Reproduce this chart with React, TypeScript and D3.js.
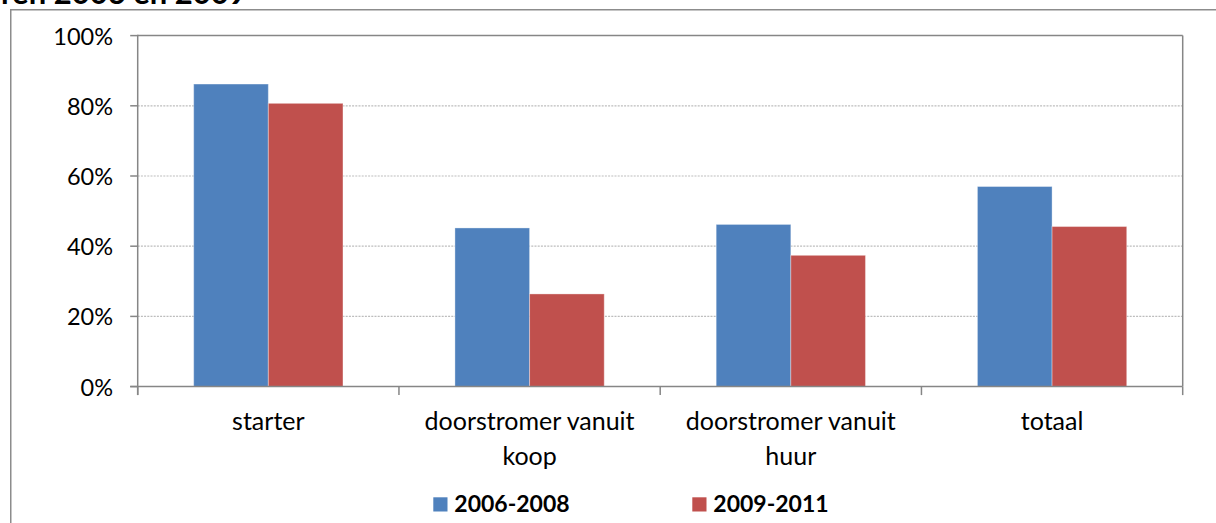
import React from "react";
import * as d3 from "d3";

const categories = ["starter", "doorstromer vanuit koop", "doorstromer vanuit huur", "totaal"];
const categoryLines = [["starter"], ["doorstromer vanuit", "koop"], ["doorstromer vanuit", "huur"], ["totaal"]];
const seriesNames = ["2006-2008", "2009-2011"];
const values2006 = [0.862, 0.452, 0.462, 0.570];
const values2009 = [0.807, 0.264, 0.374, 0.456];
const seriesColors = ["#4F81BD", "#C0504D"];
const yTicks = [0, 0.2, 0.4, 0.6, 0.8, 1.0];
const titleText = "ren 2006 en 2009";

const W = 1216;
const H = 523;
const FONT = "Lato, 'Noto Sans', sans-serif";

export default function App() {
  const left = 137.7;
  const right = 1182.7;
  const top = 35.6;
  const bottom = 386.6;

  const x0 = d3.scaleBand<string>().domain(categories).range([left, right]).padding(0);
  const x1 = d3
    .scaleBand<string>()
    .domain(seriesNames)
    .range([0, x0.bandwidth()])
    .paddingInner(0)
    .paddingOuter(0.75);
  const y = d3.scaleLinear().domain([0, 1]).range([bottom, top]);
  const fmt = d3.format(".0%");
  const seriesValues = [values2006, values2009];
  const axisColor = "#868686";

  const tickPositions = [...categories.map((c) => x0(c) as number), right];

  return (
    <div style={{ position: "fixed", left: 0, top: 0, width: W, height: H, background: "#fff" }}>
      <svg width={W} height={H} style={{ display: "block" }}>
        <rect x={0} y={0} width={W} height={H} fill="#fff" />
        {/* title (clipped at top, as in the reference) */}
        <text x={1} y={3.5} fontFamily={FONT} fontWeight={700} fontSize={31} fill="#000">
          {titleText}
        </text>
        {/* outer frame */}
        <line x1={10.75} x2={10.75} y1={9.5} y2={H} stroke="#8c8c8c" strokeWidth={1.5} />
        <line x1={10} x2={W} y1={9.75} y2={9.75} stroke="#8c8c8c" strokeWidth={1.5} />

        {/* gridlines */}
        {yTicks
          .filter((t) => t > 0 && t < 1)
          .map((t) => (
            <line
              key={"g" + t}
              x1={left}
              x2={right}
              y1={y(t)}
              y2={y(t)}
              stroke="#bdbdbd"
              strokeWidth={1.2}
              strokeDasharray="2 1.2"
            />
          ))}

        {/* bars */}
        {categories.map((c, i) => (
          <g key={c} transform={`translate(${x0(c)},0)`}>
            {seriesNames.map((s, j) => {
              const v = seriesValues[j][i];
              return (
                <rect
                  key={s}
                  x={x1(s) as number}
                  y={y(v)}
                  width={x1.bandwidth()}
                  height={bottom - y(v)}
                  fill={seriesColors[j]}
                  stroke="rgba(255,255,255,0.35)"
                  strokeWidth={1}
                />
              );
            })}
          </g>
        ))}

        {/* plot border top/right */}
        <line x1={left} x2={right} y1={top} y2={top} stroke={axisColor} strokeWidth={1.5} />
        <line x1={right} x2={right} y1={top} y2={bottom} stroke={axisColor} strokeWidth={1.5} />

        {/* y axis */}
        <line x1={left} x2={left} y1={top - 0.75} y2={bottom + 8.5} stroke={axisColor} strokeWidth={1.5} />
        {yTicks.map((t) => (
          <g key={"y" + t}>
            <line x1={left - 7.5} x2={left} y1={y(t)} y2={y(t)} stroke={axisColor} strokeWidth={1.5} />
            <text
              x={113}
              y={y(t)}
              textAnchor="end"
              dominantBaseline="central"
              fontFamily={FONT}
              fontSize={23.5}
              fill="#000"
            >
              {fmt(t)}
            </text>
          </g>
        ))}

        {/* x axis */}
        <line x1={left - 7.5} x2={right} y1={bottom} y2={bottom} stroke={axisColor} strokeWidth={1.5} />
        {tickPositions.map((p, i) => (
          <line key={"xt" + i} x1={p} x2={p} y1={bottom} y2={bottom + 8.5} stroke={axisColor} strokeWidth={1.5} />
        ))}
        {categories.map((c, i) => (
          <text
            key={"xl" + c}
            x={(x0(c) as number) + x0.bandwidth() / 2}
            textAnchor="middle"
            fontFamily={FONT}
            fontSize={25}
            fill="#000"
          >
            {categoryLines[i].map((ln, k) => (
              <tspan key={k} x={(x0(c) as number) + x0.bandwidth() / 2} y={430 + k * 35}>
                {ln}
              </tspan>
            ))}
          </text>
        ))}

        {/* legend */}
        {seriesNames.map((s, j) => {
          const lx = [433.3, 692.3][j];
          return (
            <g key={"lg" + s}>
              <rect x={lx} y={497.3} width={14.2} height={14.2} fill={seriesColors[j]} />
              <text x={lx + 21} y={511.5} fontFamily={FONT} fontWeight={700} fontSize={23} fill="#000">
                {s}
              </text>
            </g>
          );
        })}
      </svg>
    </div>
  );
}
